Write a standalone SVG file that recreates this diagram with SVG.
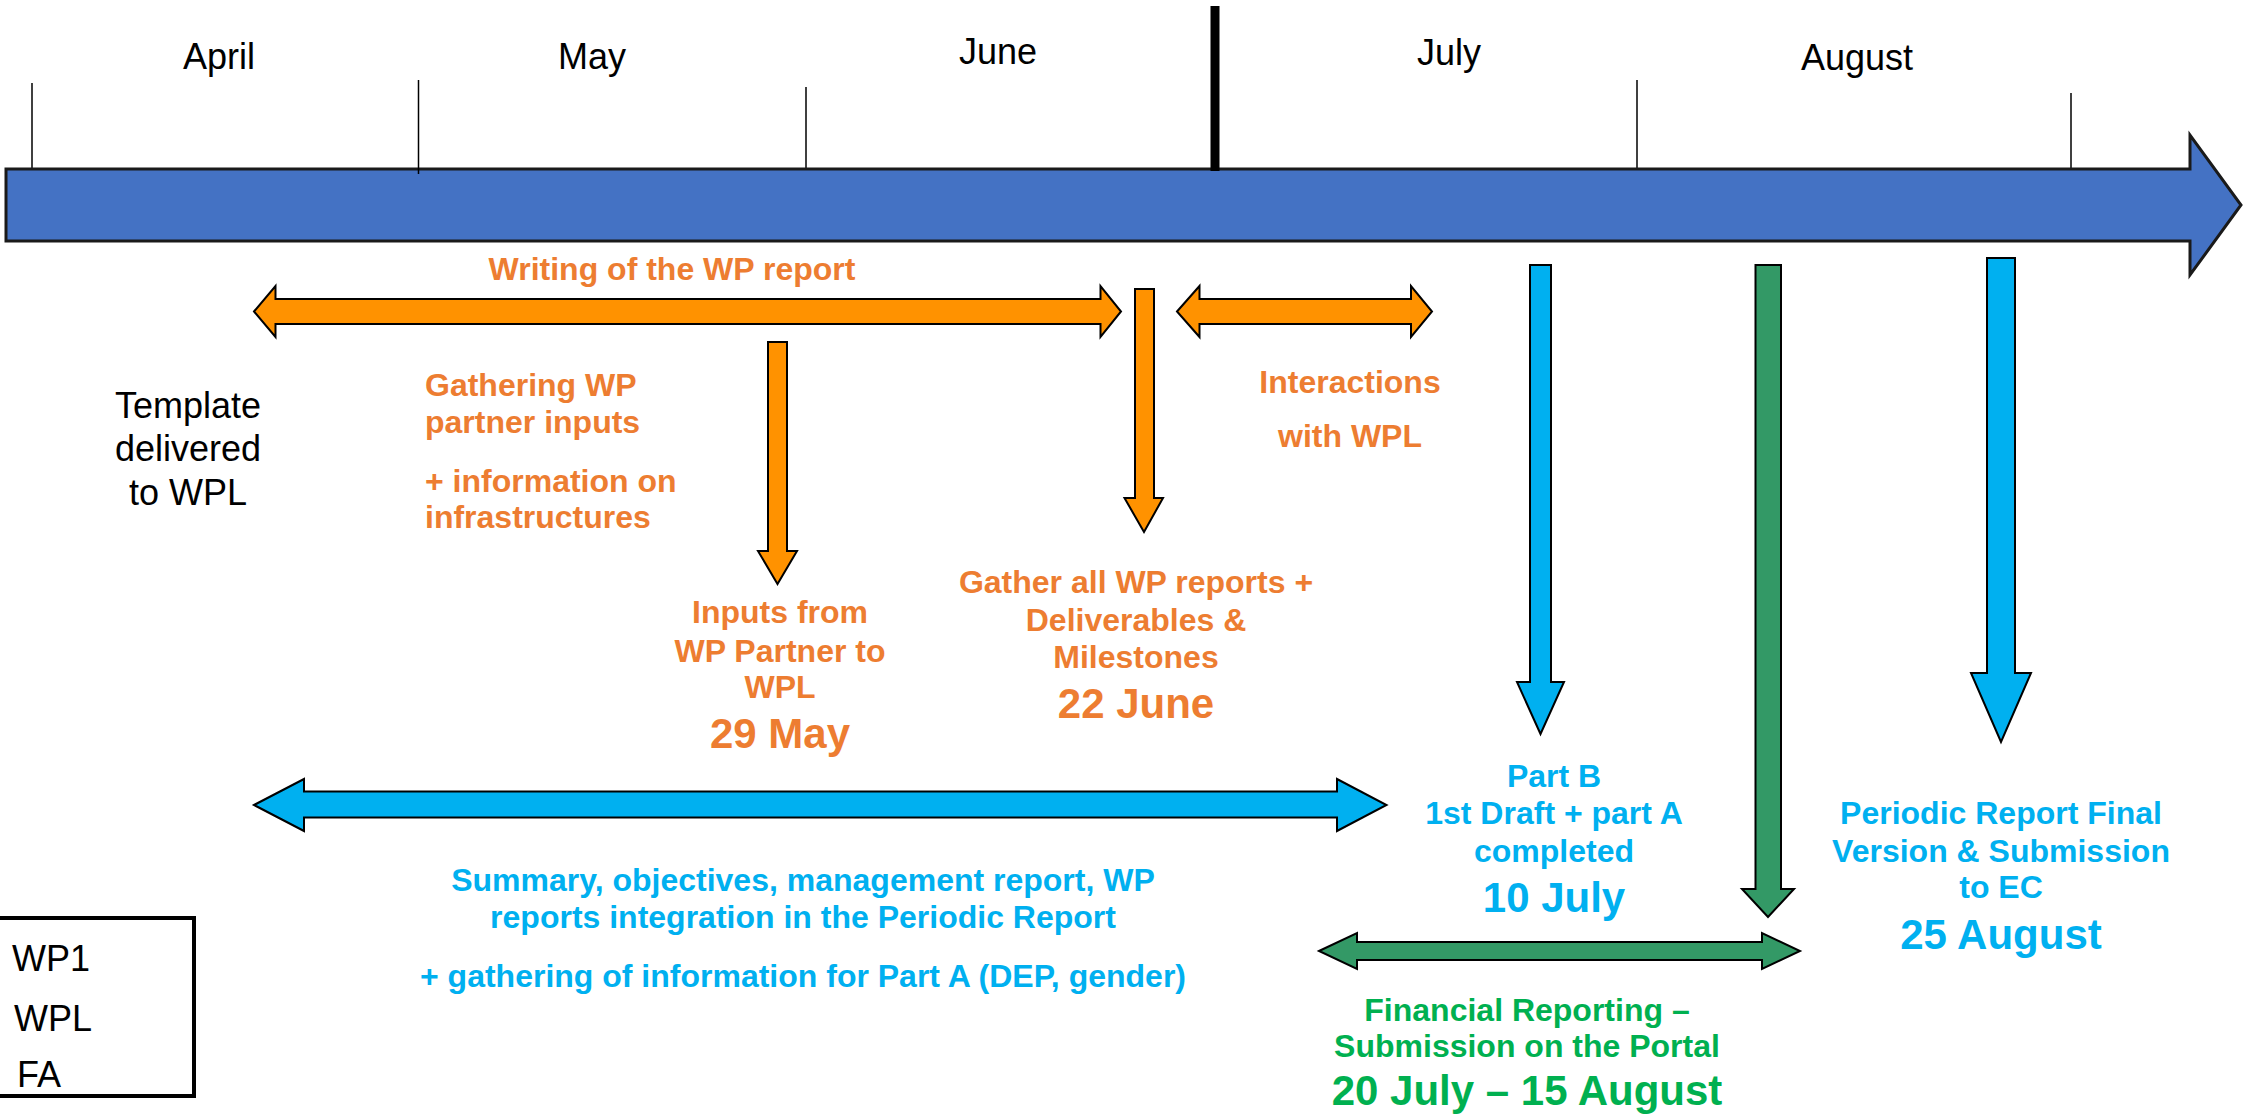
<svg xmlns="http://www.w3.org/2000/svg" width="2252" height="1114" viewBox="0 0 2252 1114">
<style>
text{font-family:"Liberation Sans",Arial,sans-serif}
.month{font-size:36px;fill:#000;text-anchor:middle}
.o{font-size:32px;font-weight:bold;fill:#ED7D31}
.ob{font-size:42px;font-weight:bold;fill:#ED7D31}
.b{font-size:32px;font-weight:bold;fill:#00B0F0}
.bb{font-size:42px;font-weight:bold;fill:#00B0F0}
.g{font-size:32px;font-weight:bold;fill:#00B050}
.gb{font-size:42px;font-weight:bold;fill:#00B050}
.c{text-anchor:middle}
.tick{stroke:#000;stroke-width:1.5}
.arrO{fill:#FF9200;stroke:#000;stroke-width:2;stroke-linejoin:miter}
.arrB{fill:#00B0F0;stroke:#000;stroke-width:2}
.arrG{fill:#339966;stroke:#000;stroke-width:2}
.leg{font-size:36px;fill:#000}
</style>
<rect width="2252" height="1114" fill="#fff"/>
<g id="timeline">
<line class="tick" x1="32" y1="83" x2="32" y2="169"/>
<line class="tick" x1="806" y1="87" x2="806" y2="169"/>
<line class="tick" x1="1637" y1="80" x2="1637" y2="169"/>
<line class="tick" x1="2071" y1="93" x2="2071" y2="169"/>
<polygon points="6,169 2190,169 2190,135 2241,205 2190,275 2190,241 6,241" fill="#4472C4" stroke="#1a1a1a" stroke-width="3"/>
<line class="tick" x1="418.5" y1="80" x2="418.5" y2="174"/>
<line x1="1215" y1="6" x2="1215" y2="171" stroke="#000" stroke-width="9"/>
<text class="month" x="219" y="69">April</text>
<text class="month" x="592" y="69">May</text>
<text class="month" x="998" y="64">June</text>
<text class="month" x="1449" y="65">July</text>
<text class="month" x="1857" y="70">August</text>
</g>
<g id="connectors">
<polygon class="arrO" points="254,311.5 275.5,286 275.5,299 1100.5,299 1100.5,286 1121,311.5 1100.5,337 1100.5,324 275.5,324 275.5,337"/>
<polygon class="arrO" points="1177,311.5 1199.5,286 1199.5,299 1411,299 1411,286 1432,311.5 1411,337 1411,324 1199.5,324 1199.5,337"/>
<polygon class="arrO" points="768,342 787,342 787,551 797,551 777.5,584 758,551 768,551"/>
<polygon class="arrO" points="1135,289 1154,289 1154,498 1163,498 1144,532 1124.5,498 1135,498"/>
<polygon class="arrB" points="1530,265 1551,265 1551,682 1564,682 1540.5,734 1517,682 1530,682"/>
<polygon class="arrG" points="1755.5,265 1781,265 1781,889 1794,889 1768,917 1742,889 1755.5,889"/>
<polygon class="arrB" points="1987,258 2015,258 2015,673 2031,673 2001,742 1971,673 1987,673"/>
<polygon class="arrB" points="254,805 304,779 304,791.5 1337,791.5 1337,779 1386.5,805 1337,831 1337,817.5 304,817.5 304,831"/>
<polygon class="arrG" points="1319,951 1357,933 1357,942 1762,942 1762,933 1800,951 1762,969 1762,960 1357,960 1357,969"/>
</g>
<g id="writing"><text class="o c" x="672" y="280">Writing of the WP report</text></g>
<g id="template">
<text class="c" x="188" y="418" font-size="36">Template</text>
<text class="c" x="188" y="461" font-size="36">delivered</text>
<text class="c" x="188" y="505" font-size="36">to WPL</text>
</g>
<g id="gathering">
<text class="o" x="425" y="396">Gathering WP</text>
<text class="o" x="425" y="433">partner inputs</text>
<text class="o" x="425" y="492">+ information on</text>
<text class="o" x="425" y="528">infrastructures</text>
</g>
<g id="inputs">
<text class="o c" x="780" y="623">Inputs from</text>
<text class="o c" x="780" y="662">WP Partner to</text>
<text class="o c" x="780" y="698">WPL</text>
<text class="ob c" x="780" y="748">29 May</text>
</g>
<g id="gather">
<text class="o c" x="1136" y="593">Gather all WP reports +</text>
<text class="o c" x="1136" y="631">Deliverables &amp;</text>
<text class="o c" x="1136" y="668">Milestones</text>
<text class="ob c" x="1136" y="718">22 June</text>
</g>
<g id="interactions">
<text class="o c" x="1350" y="393">Interactions</text>
<text class="o c" x="1350" y="447">with WPL</text>
</g>
<g id="summary">
<text class="b c" x="803" y="891">Summary, objectives, management report, WP</text>
<text class="b c" x="803" y="928">reports integration in the Periodic Report</text>
<text class="b c" x="803" y="987">+ gathering of information for Part A (DEP, gender)</text>
</g>
<g id="partb">
<text class="b c" x="1554" y="787">Part B</text>
<text class="b c" x="1554" y="824">1st Draft + part A</text>
<text class="b c" x="1554" y="862">completed</text>
<text class="bb c" x="1554" y="912">10 July</text>
</g>
<g id="final">
<text class="b c" x="2001" y="824">Periodic Report Final</text>
<text class="b c" x="2001" y="862">Version &amp; Submission</text>
<text class="b c" x="2001" y="898">to EC</text>
<text class="bb c" x="2001" y="949">25 August</text>
</g>
<g id="financial">
<text class="g c" x="1527" y="1021">Financial Reporting –</text>
<text class="g c" x="1527" y="1057">Submission on the Portal</text>
<text class="gb c" x="1527" y="1105">20 July – 15 August</text>
</g>
<g id="legend">
<rect x="-4" y="918" width="198" height="178" fill="none" stroke="#000" stroke-width="4"/>
<text class="leg" x="12" y="971">WP1</text>
<text class="leg" x="14" y="1031">WPL</text>
<text class="leg" x="17" y="1087">FA</text>
</g>
</svg>
